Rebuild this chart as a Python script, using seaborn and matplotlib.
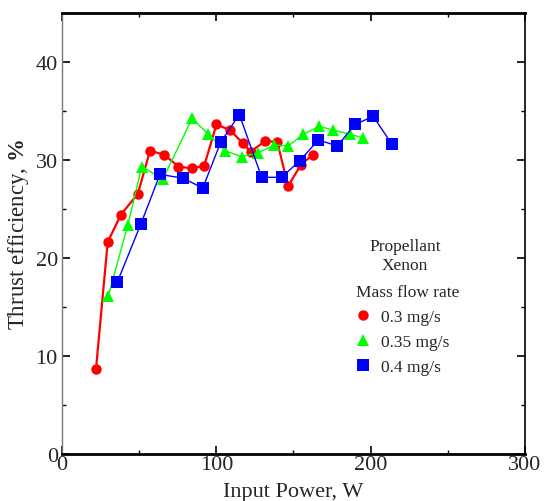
import matplotlib
matplotlib.use("Agg")
import matplotlib.pyplot as plt
import seaborn as sns
import pandas as pd
from matplotlib.ticker import MultipleLocator

# Thrust efficiency vs input power, three xenon mass flow rates
power_03 = [22.0, 29.6, 38.2, 49.1, 57.0, 66.3, 75.4, 84.1, 92.2, 100.1,
            108.9, 117.1, 122.2, 131.6, 139.5, 146.5, 154.9, 162.5]
eff_03 = [8.6, 21.6, 24.4, 26.5, 30.9, 30.5, 29.3, 29.1, 29.4, 33.6,
          33.0, 31.7, 30.8, 31.9, 31.8, 27.3, 29.5, 30.5]

power_035 = [30.0, 42.6, 51.7, 65.3, 84.3, 94.8, 105.6, 116.5, 127.2, 137.5,
             146.7, 156.4, 166.8, 175.8, 186.7, 195.3]
eff_035 = [16.1, 23.3, 29.3, 28.0, 34.2, 32.6, 30.9, 30.3, 30.7, 31.5,
           31.4, 32.6, 33.4, 33.0, 32.6, 32.2]

power_04 = [35.8, 51.0, 63.5, 78.6, 91.2, 102.9, 114.9, 129.4, 142.4, 154.1,
            166.1, 178.4, 189.9, 201.7, 213.7]
eff_04 = [17.5, 23.4, 28.5, 28.1, 27.1, 31.8, 34.6, 28.2, 28.2, 29.9,
          32.0, 31.4, 33.6, 34.4, 31.6]

labels = ['0.3 mg/s', '0.35 mg/s', '0.4 mg/s']

sns.set_style('ticks')
plt.rcParams['font.family'] = ['Liberation Serif', 'DejaVu Serif']
plt.rcParams['mathtext.fontset'] = 'custom'
plt.rcParams['mathtext.bf'] = 'Liberation Serif:bold'

fig = plt.figure(figsize=(5.44, 5.02), dpi=100)
ax = fig.add_axes([0.114, 0.094, 0.851, 0.879])

series = [
    (power_03, eff_03, labels[0], '#ff0000', 'o', 7.5, 1.6),
    (power_035, eff_035, labels[1], '#00ff00', '^', 8, 1.0),
    (power_04, eff_04, labels[2], '#0000ff', 's', 8.5, 1.0),
]
for xs, ys, lab, col, mk, ms, lw in series:
    df = pd.DataFrame({'power': xs, 'eff': ys})
    sns.lineplot(data=df, x='power', y='eff', sort=False, ax=ax, color=col,
                 marker=mk, markersize=ms, markeredgewidth=0, linewidth=lw,
                 label=lab)

ax.set_xlim(0, 300)
ax.set_ylim(0, 45)
ax.xaxis.set_major_locator(MultipleLocator(100))
ax.xaxis.set_minor_locator(MultipleLocator(50))
ax.yaxis.set_major_locator(MultipleLocator(10))
ax.yaxis.set_minor_locator(MultipleLocator(5))
ax.set_yticks([0, 10, 20, 30, 40])
ax.tick_params(which='both', direction='in', top=True, right=True,
               labelsize=16, color='black')
ax.tick_params(which='major', length=6, width=1.2)
ax.tick_params(which='minor', length=3, width=1)
ax.tick_params(axis='x', which='major', pad=1)
ax.tick_params(axis='y', which='major', pad=3)

for side in ['top', 'bottom']:
    ax.spines[side].set_linewidth(2)
    ax.spines[side].set_color('black')
ax.spines['left'].set_linewidth(1)
ax.spines['left'].set_color('#777777')
ax.spines['right'].set_linewidth(1.2)
ax.spines['right'].set_color('black')

ax.set_xlabel('Input Power, W', fontsize=16)
ax.set_ylabel(r'Thrust efficiency, $\mathbf{\%}$', fontsize=16.5)
ax.xaxis.set_label_coords(0.5, -0.064)
ax.yaxis.set_label_coords(-0.067, 0.5)

ax.text(0.741, 0.449, 'Propellant\nXenon', transform=ax.transAxes,
        ha='center', va='center', fontsize=12.5, linespacing=1.2)
leg = ax.legend(title='Mass flow rate', loc='upper left',
                bbox_to_anchor=(0.636, 0.385), frameon=False, fontsize=12.5,
                title_fontsize=12.5, handlelength=0.8, handletextpad=0.6,
                labelspacing=0.52, borderpad=0.0, borderaxespad=0.0)
leg._legend_box.align = 'left'
for h in leg.legend_handles:
    h.set_linestyle('none')

fig.savefig('out.png', dpi=100)
plt.close(fig)
